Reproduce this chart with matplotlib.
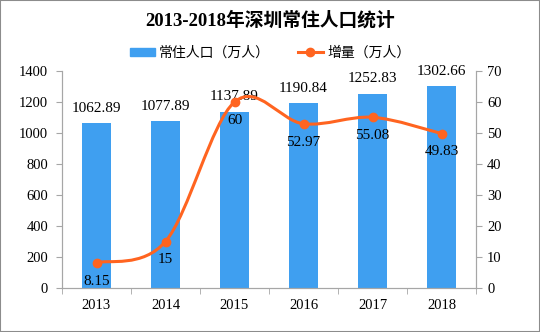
import matplotlib
matplotlib.use("Agg")
import matplotlib.pyplot as plt
import matplotlib.patches as mpatches
import matplotlib.lines as mlines
from matplotlib.path import Path
import numpy as np

years = ["2013", "2014", "2015", "2016", "2017", "2018"]
population = [1062.89, 1077.89, 1137.89, 1190.84, 1252.83, 1302.66]
increase = [8.15, 15, 60, 52.97, 55.08, 49.83]
pop_labels = ["1062.89", "1077.89", "1137.89", "1190.84", "1252.83", "1302.66"]
inc_labels = ["8.15", "15", "60", "52.97", "55.08", "49.83"]

BAR_COLOR = "#3f9ff0"
LINE_COLOR = "#ff6420"
AXIS_COLOR = "#a6a6a6"
FONT = ["Liberation Serif", "Noto Sans CJK SC"]

plt.rcParams["font.family"] = FONT


def smooth_path(xs, ys):
    # catmull-rom style bezier through the points, like excel's smoothed line
    pts = list(zip(xs, ys))
    verts = [pts[0]]
    codes = [Path.MOVETO]
    n = len(pts)
    for i in range(n - 1):
        p0 = np.array(pts[max(i - 1, 0)])
        p1 = np.array(pts[i])
        p2 = np.array(pts[i + 1])
        p3 = np.array(pts[min(i + 2, n - 1)])
        c1 = p1 + (p2 - p0) / 6
        c2 = p2 - (p3 - p1) / 6
        verts += [tuple(c1), tuple(c2), tuple(p2)]
        codes += [Path.CURVE4] * 3
    return Path(verts, codes)


fig = plt.figure(figsize=(5.4, 3.32), dpi=100)
ax = fig.add_axes([62 / 540, 1 - 288 / 332, (476 - 62) / 540, (288 - 71) / 332])
ax2 = ax.twinx()

x = np.arange(len(years))
ax.bar(x, population, width=0.41, color=BAR_COLOR, zorder=2)
ax.set_xlim(-0.5, len(years) - 0.5)
ax.set_ylim(0, 1400)
ax.set_yticks(np.arange(0, 1401, 200))
ax.set_xticks(x)
ax.set_xticklabels(years)
ax.set_xticks(np.arange(-0.5, len(years)), minor=True)
ax.tick_params(axis="x", which="major", length=0, pad=8, labelsize=10.5)
ax.tick_params(axis="x", which="minor", length=4, color=AXIS_COLOR, direction="out")
ax.tick_params(axis="y", length=4, color=AXIS_COLOR, labelsize=10.5, pad=6)

for xi, v, lab in zip(x, population, pop_labels):
    ax.annotate(lab, (xi, v), xytext=(0, 6), textcoords="offset points",
                ha="center", va="bottom", fontsize=11)

ax2.set_ylim(0, 70)
ax2.set_yticks(np.arange(0, 71, 10))
ax2.tick_params(axis="y", length=4, color=AXIS_COLOR, labelsize=10.5, pad=4)

ax2.add_patch(mpatches.PathPatch(smooth_path(x, increase), facecolor="none",
                                 edgecolor=LINE_COLOR, linewidth=2.2, zorder=3))
ax2.plot(x, increase, "o", color=LINE_COLOR, markersize=6, zorder=4)
for xi, v, lab in zip(x, increase, inc_labels):
    ax2.annotate(lab, (xi, v), xytext=(0, -8.5), textcoords="offset points",
                 ha="center", va="top", fontsize=11)

for a in (ax, ax2):
    a.spines["top"].set_visible(False)
    a.spines["left"].set_color(AXIS_COLOR)
    a.spines["right"].set_color(AXIS_COLOR)
    a.spines["bottom"].set_color(AXIS_COLOR)

fig.text(0.5, 1 - 20 / 332, "2013-2018年深圳常住人口统计", ha="center", va="center",
         fontsize=13.5, fontweight="bold")

bar_handle = mpatches.Patch(color=BAR_COLOR)
line_handle = mlines.Line2D([], [], color=LINE_COLOR, linewidth=2.2, marker="o", markersize=6)
fig.legend([bar_handle, line_handle], ["常住人口（万人）", "增量（万人）"],
           loc="center", bbox_to_anchor=(0.5, 1 - 53 / 332), ncol=2, frameon=False,
           fontsize=10, handlelength=1.8, handleheight=0.5, columnspacing=2.0,
           handletextpad=0.3)

fig.patches.append(mpatches.Rectangle((0, 0), 1, 1, transform=fig.transFigure,
                                      fill=False, edgecolor="#8c8c8c", linewidth=1.5))

fig.savefig("out.png", dpi=100)
